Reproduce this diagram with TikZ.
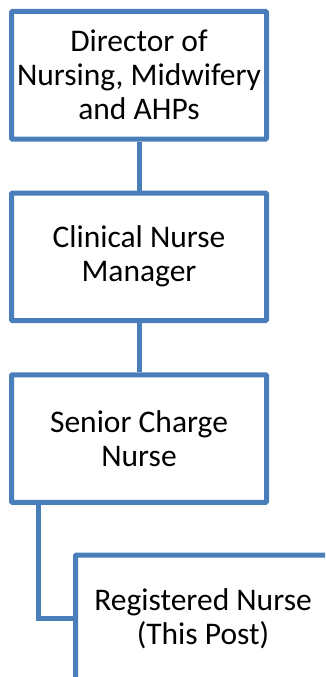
\documentclass[tikz,border=0pt]{standalone}
\usepackage{fontspec}
\setmainfont{Carlito}
\definecolor{boxblue}{HTML}{4A7EBB}
\begin{document}
\begin{tikzpicture}[x=1pt,y=-1pt,
  rolebox/.style={draw=boxblue, line width=5pt, fill=white, rounded corners=1pt,
    minimum width=255pt, minimum height=127.5pt, inner sep=0pt, align=center,
    font=\fontsize{31.5}{34}\selectfont},
  link/.style={draw=boxblue, line width=5pt}]
\useasboundingbox (0,0) rectangle (325,677);
\clip (0,0) rectangle (325,677);
\coordinate (elbow) at (38,618.75);
\node[rolebox] (dir) at (139,75.25) {Director of\\Nursing, Midwifery\\and AHPs};
\node[rolebox] (cnm) at (139,256.75) {Clinical Nurse\\Manager};
\node[rolebox] (scn) at (139,438.5) {Senior Charge\\Nurse};
\node[rolebox] (rn) at (203,618.75) {Registered Nurse\\(This Post)};
\draw[link] (dir.south) -- (cnm.north);
\draw[link] (cnm.south) -- (scn.north);
\draw[link] (scn.south -| elbow) -- (elbow) -- (rn.west);
\end{tikzpicture}
\end{document}
